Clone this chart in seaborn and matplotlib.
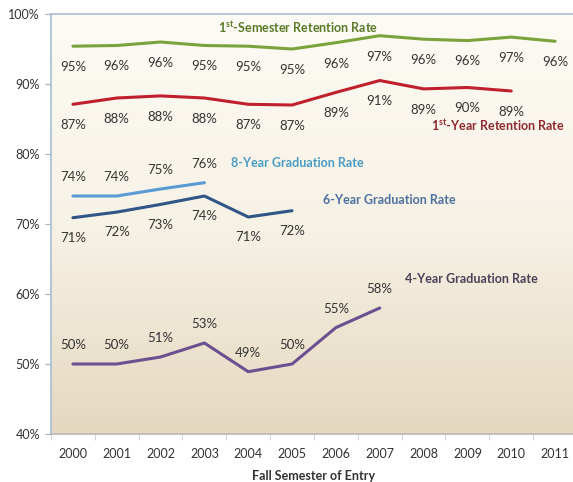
import numpy as np
import pandas as pd
import seaborn as sns
import matplotlib.pyplot as plt
from matplotlib.colors import LinearSegmentedColormap

# Data
years = list(range(2000, 2012))

sem1_retention = [95.4, 95.5, 96.0, 95.5, 95.4, 95.0, 95.9, 96.9, 96.4, 96.2, 96.7, 96.1]
sem1_labels = [95, 96, 96, 95, 95, 95, 96, 97, 96, 96, 97, 96]

yr1_retention = [87.1, 88.0, 88.3, 88.0, 87.1, 87.0, 88.8, 90.5, 89.3, 89.5, 89.0]
yr1_labels = [87, 88, 88, 88, 87, 87, 89, 91, 89, 90, 89]

grad8 = [74.0, 74.0, 75.0, 75.9]
grad8_labels = [74, 74, 75, 76]

grad6 = [70.9, 71.7, 72.8, 74.0, 71.0, 71.9]
grad6_labels = [71, 72, 73, 74, 71, 72]

grad4 = [50.0, 50.0, 51.0, 53.0, 48.9, 50.0, 55.2, 58.0]
grad4_labels = [50, 50, 51, 53, 49, 50, 55, 58]

series_names = ['1st-Semester', '1st-Year', '8-Year', '6-Year', '4-Year']
line_colors = ['#7aa33c', '#c0202c', '#5b9bd5', '#2f5686', '#6b5090']
text_colors = ['#5b7a2a', '#8e2a2e', '#4a9cc2', '#4c70a0', '#4a4258']

all_values = [sem1_retention, yr1_retention, grad8, grad6, grad4]
all_labels = [sem1_labels, yr1_labels, grad8_labels, grad6_labels, grad4_labels]

rows = []
for name, vals in zip(series_names, all_values):
    for yr, v in zip(years, vals):
        rows.append({'Year': yr, 'Rate': v, 'Series': name})
df = pd.DataFrame(rows)

sns.set_style('white')
plt.rcParams['font.family'] = ['Lato', 'DejaVu Sans']
plt.rcParams['mathtext.fontset'] = 'custom'
plt.rcParams['mathtext.rm'] = 'Lato'
plt.rcParams['mathtext.bf'] = 'Lato:bold'

fig = plt.figure(figsize=(5.73, 4.82), dpi=100)
ax = fig.add_axes([51 / 573, 48 / 482, 526 / 573, 420 / 482])

# gradient background, light at the top, beige at the bottom
grad_cmap = LinearSegmentedColormap.from_list('bg', ['#fdfbf5', '#f7f2e6', '#e4d8bf'])
grad = np.linspace(0, 1, 256).reshape(-1, 1)
ax.imshow(grad, aspect='auto', cmap=grad_cmap, extent=[1999.5, 2011.5, 40, 100],
          origin='upper', zorder=0)

sns.lineplot(data=df, x='Year', y='Rate', hue='Series', palette=dict(zip(series_names, line_colors)),
             linewidth=2.2, legend=False, ax=ax, zorder=3)

# data labels: offset in points (positive = above)
offsets = [-15, -15, 13.5, -14.5, 13.5]
for vals, labs, off in zip(all_values, all_labels, offsets):
    for yr, v, lab in zip(years, vals, labs):
        ax.annotate(f'{lab}%', (yr, v), xytext=(0, off), textcoords='offset points',
                    ha='center', va='center', fontsize=9.5, color='#333333', zorder=4)

# series titles
title_kw = dict(fontsize=9, fontweight='bold', ha='center', va='center')
ax.text(2005.14, 98.1, r'1$^{\mathbf{st}}$-Semester Retention Rate', color=text_colors[0], **title_kw)
ax.text(2009.7, 84.1, r'1$^{\mathbf{st}}$-Year Retention Rate', color=text_colors[1], **title_kw)
ax.text(2005.12, 78.7, '8-Year Graduation Rate', color=text_colors[2], **title_kw)
ax.text(2007.22, 73.4, '6-Year Graduation Rate', color=text_colors[3], **title_kw)
ax.text(2009.1, 62.1, '4-Year Graduation Rate', color=text_colors[4], **title_kw)

ax.set_xlim(1999.5, 2011.5)
ax.set_ylim(40, 100)
ax.set_yticks(range(40, 101, 10))
ax.set_yticklabels([f'{t}%' for t in range(40, 101, 10)])
ax.set_xticks(years)
ax.set_xticklabels([str(y) for y in years])
ax.set_xticks([y + 0.5 for y in years[:-1]] + [1999.5], minor=True)
ax.tick_params(axis='x', which='major', length=0, pad=10, labelsize=9, labelcolor='#333333')
ax.tick_params(axis='x', which='minor', length=4, color='#c8c8c8', direction='out')
ax.tick_params(axis='y', length=4, color='#a0b4c8', labelsize=9, labelcolor='#333333', pad=4)
ax.xaxis.set_ticks_position('bottom')
ax.yaxis.set_ticks_position('left')

ax.set_xlabel('Fall Semester of Entry', fontsize=9, fontweight='bold', color='#333333', labelpad=7)
ax.set_ylabel('')

for side in ['left', 'top', 'right']:
    ax.spines[side].set_color('#a9bdd3')
    ax.spines[side].set_linewidth(1.2)
ax.spines['bottom'].set_color('#b8b8b8')
ax.spines['bottom'].set_linewidth(1.2)

fig.savefig('out.png', dpi=100)
